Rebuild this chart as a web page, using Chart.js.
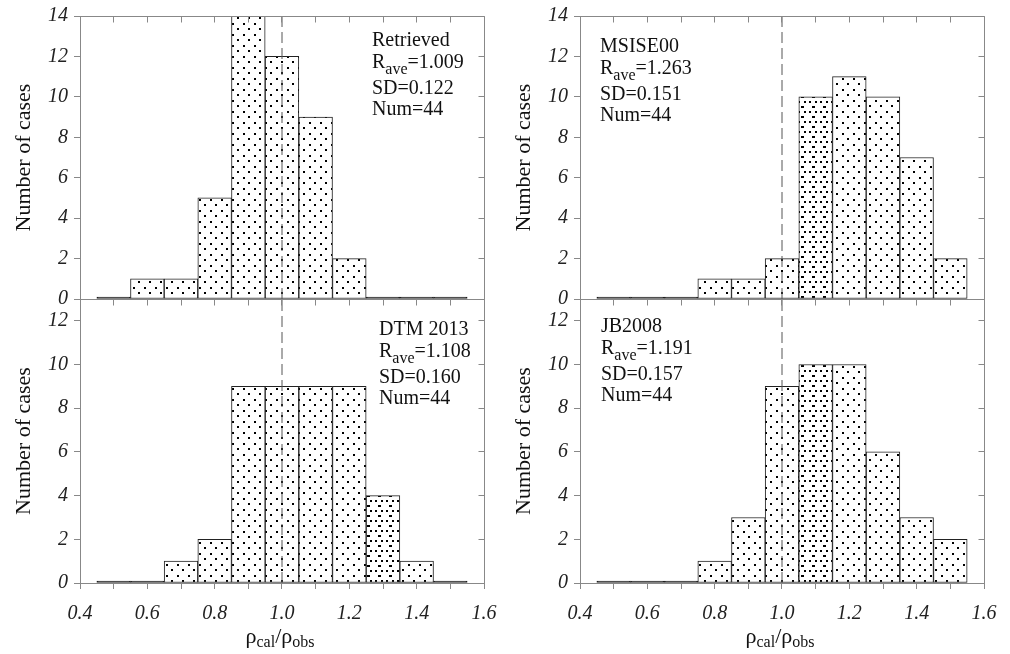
<!DOCTYPE html>
<html>
<head>
<meta charset="utf-8">
<script src="https://cdn.jsdelivr.net/npm/chart.js@4.4.0/dist/chart.umd.min.js"></script>
<style>
  body { margin: 0; background: #fff; width: 1010px; height: 654px; overflow: hidden; position: relative; }
  canvas { position: absolute; }
</style>
</head>
<body>
<canvas id="c1" width="500" height="312" style="left:0;top:0"></canvas>
<canvas id="c2" width="510" height="312" style="left:500px;top:0"></canvas>
<canvas id="c3" width="500" height="355" style="left:0;top:299px"></canvas>
<canvas id="c4" width="510" height="355" style="left:500px;top:299px"></canvas>
<script>
// histogram bins (centre of each 0.1 wide bin)
const binCenters = [0.5, 0.6, 0.7, 0.8, 0.9, 1.0, 1.1, 1.2, 1.3, 1.4, 1.5];
const retrievedCounts = [0, 1, 1, 5, 14, 12, 9, 2, 0, 0, 0];
const msiseCounts = [0, 0, 0, 1, 1, 2, 10, 11, 10, 7, 2];
const dtmCounts = [0, 0, 1, 2, 9, 9, 9, 9, 4, 1, 0];
const jbCounts = [0, 0, 0, 1, 3, 9, 10, 10, 6, 3, 2];

const modelNames = ['Retrieved', 'MSISE00', 'DTM 2013', 'JB2008'];
const rAve = ['1.009', '1.263', '1.108', '1.191'];
const sdValues = ['0.122', '0.151', '0.160', '0.157'];
const numCases = ['44', '44', '44', '44'];

const xMin = 0.4, xMax = 1.6, xStep = 0.1;
const refRatio = 1.0;
const yMaxTop = 14, yMaxBottom = 13, yStep = 2;

const serif = '"Liberation Serif", "Times New Roman", serif';
Chart.defaults.font.family = serif;

function makePattern(dense) {
  const c = document.createElement('canvas');
  c.width = 11;
  c.height = dense ? 10 : 11;
  const g = c.getContext('2d');
  g.fillStyle = '#fff';
  g.fillRect(0, 0, c.width, c.height);
  g.fillStyle = '#000';
  if (dense) {
    g.fillRect(1, 1, 2, 2);
    g.fillRect(7, 1, 2, 2);
    g.fillRect(4, 6, 3, 2);
  } else {
    g.fillRect(1, 1, 2, 2);
    g.fillRect(6, 6, 2, 2);
  }
  return g.createPattern(c, 'repeat');
}
const dotFill = makePattern(false);
const denseFill = makePattern(true);

// top/right frame with inward ticks
const framePlugin = {
  id: 'frame',
  afterDraw(chart) {
    const { ctx, chartArea: a, scales: { x, y } } = chart;
    const t = Math.round(a.top - 0.5) + 0.5;
    const r = Math.round(a.right - 0.5) + 0.5;
    ctx.save();
    ctx.strokeStyle = '#888';
    ctx.lineWidth = 1;
    ctx.beginPath();
    ctx.moveTo(a.left, t); ctx.lineTo(r, t);
    ctx.moveTo(r, t); ctx.lineTo(r, a.bottom);
    x.ticks.forEach(tk => {
      const px = Math.round(x.getPixelForValue(tk.value) - 0.5) + 0.5;
      ctx.moveTo(px, t); ctx.lineTo(px, t + 6);
    });
    y.ticks.forEach(tk => {
      const py = Math.round(y.getPixelForValue(tk.value) - 0.5) + 0.5;
      ctx.moveTo(r, py); ctx.lineTo(r - 6, py);
    });
    ctx.stroke();
    ctx.restore();
  }
};

function drawParts(ctx, x, y, parts, size, subSize, subShift) {
  parts.forEach(([text, sub]) => {
    ctx.font = (sub ? subSize : size) + 'px ' + serif;
    ctx.fillText(text, x, y + (sub ? subShift : 0));
    x += ctx.measureText(text).width;
  });
}

const notePlugin = {
  id: 'note',
  afterDraw(chart, args, opts) {
    const { ctx, chartArea: a } = chart;
    const k = opts.k;
    const x = a.left + opts.dx, y = a.top + opts.dy;
    ctx.save();
    ctx.fillStyle = '#111';
    ctx.textBaseline = 'alphabetic';
    ctx.textAlign = 'left';
    drawParts(ctx, x, y, [[modelNames[k]]], 20, 16, 6);
    drawParts(ctx, x, y + 22, [['R'], ['ave', true], ['=' + rAve[k]]], 20, 16, 6);
    drawParts(ctx, x, y + 48, [['SD=' + sdValues[k]]], 20, 16, 6);
    drawParts(ctx, x, y + 69, [['Num=' + numCases[k]]], 20, 16, 6);
    if (opts.xTitle) {
      const parts = [['\u03c1'], ['cal', true], ['/\u03c1'], ['obs', true]];
      let w = 0;
      parts.forEach(([t, sub]) => {
        ctx.font = (sub ? 16 : 22) + 'px ' + serif;
        w += ctx.measureText(t).width;
      });
      drawParts(ctx, (a.left + a.right) / 2 - w / 2 - 2, a.bottom + 60, parts, 22, 16, 4);
    }
    ctx.restore();
  }
};

const panels = [
  { id: 'c1', counts: retrievedCounts, k: 0, top: true, right: 16, dense: null, dx: 292, dy: 30 },
  { id: 'c2', counts: msiseCounts, k: 1, top: true, right: 26, dense: 1.1, dx: 20, dy: 36 },
  { id: 'c3', counts: dtmCounts, k: 2, top: false, right: 16, dense: 1.3, dx: 299, dy: 36 },
  { id: 'c4', counts: jbCounts, k: 3, top: false, right: 26, dense: 1.1, dx: 21, dy: 33 }
];

function barFill(p, ctx) {
  if (p.counts[ctx.dataIndex] === 0) return '#111';
  if (p.dense !== null && Math.abs(binCenters[ctx.dataIndex] - p.dense) < 1e-6) return denseFill;
  return dotFill;
}

function makeChart(p) {
  const yMax = p.top ? yMaxTop : yMaxBottom;
  const tickFont = { family: serif, size: 20, style: 'italic' };
  new Chart(document.getElementById(p.id), {
    type: 'bar',
    data: {
      datasets: [
        {
          type: 'line',
          data: [{ x: refRatio, y: 0 }, { x: refRatio, y: yMax }],
          borderColor: '#555',
          borderWidth: 1,
          borderDash: [11, 5],
          pointRadius: 0,
          order: 1
        },
        {
          type: 'bar',
          data: binCenters.map((x, i) => ({ x: x, y: p.counts[i] })),
          backgroundColor: ctx => barFill(p, ctx),
          borderColor: '#222',
          borderWidth: 1,
          borderSkipped: false,
          minBarLength: 2,
          barPercentage: 1,
          categoryPercentage: 1,
          order: 2
        }
      ]
    },
    options: {
      responsive: false,
      animation: false,
      layout: { padding: { top: p.top ? 16 : 0, right: p.right, left: 0, bottom: 0 } },
      plugins: {
        legend: { display: false },
        tooltip: { enabled: false },
        note: { k: p.k, dx: p.dx, dy: p.dy, xTitle: !p.top }
      },
      scales: {
        x: {
          type: 'linear',
          min: xMin,
          max: xMax,
          offset: false,
          ticks: {
            stepSize: xStep,
            autoSkip: false,
            maxRotation: 0,
            display: !p.top,
            padding: 13,
            color: '#222',
            font: tickFont,
            callback: v => Math.round(v * 10) % 2 === 0 ? v.toFixed(1) : ''
          },
          grid: { display: !p.top, offset: false, drawOnChartArea: false, tickLength: 6, color: '#888' },
          border: { display: true, color: '#888' },
          afterFit: s => {
            s.height = p.top ? 13 : 71;
            s.paddingLeft = 0; s.paddingRight = 0;
          }
        },
        y: {
          min: 0,
          max: yMax,
          ticks: { stepSize: yStep, includeBounds: false, padding: 6, color: '#222', font: tickFont },
          afterBuildTicks: s => { s.ticks = s.ticks.filter(t => t.value % yStep === 0); },
          grid: { drawOnChartArea: false, tickLength: 6, color: '#888' },
          border: { display: true, color: '#888' },
          title: {
            display: true,
            text: 'Number of cases',
            color: '#111',
            font: { family: serif, size: 22 },
            padding: { top: 11, bottom: 0 }
          },
          afterFit: s => {
            s.width = 80;
            s.paddingTop = 0; s.paddingBottom = 0;
          }
        }
      }
    },
    plugins: [framePlugin, notePlugin]
  });
}

panels.forEach(makeChart);
</script>
</body>
</html>
